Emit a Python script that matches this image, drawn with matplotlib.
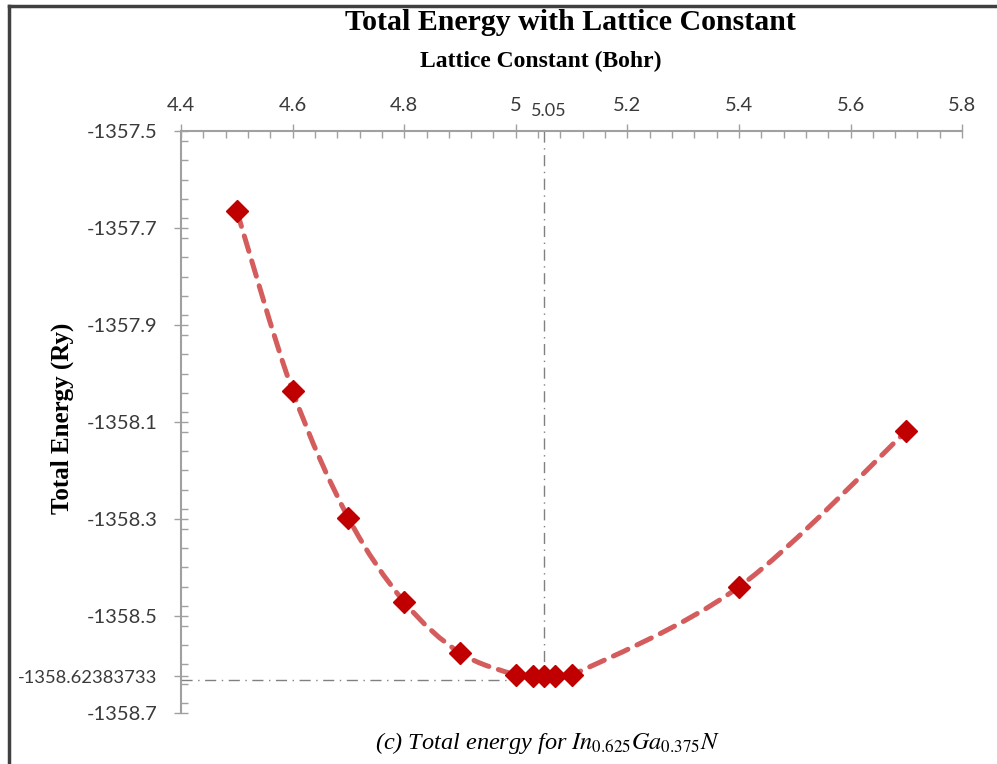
import numpy as np
import matplotlib.pyplot as plt
from matplotlib.path import Path
from matplotlib.patches import PathPatch
from matplotlib.lines import Line2D
from matplotlib.ticker import MultipleLocator

# lattice constant (Bohr) and total energy (Ry)
lattice = [4.5, 4.6, 4.7, 4.8, 4.9, 5.0, 5.03, 5.05, 5.07, 5.1, 5.4, 5.7]
energy = [-1357.665, -1358.036, -1358.298, -1358.471, -1358.576,
          -1358.6215, -1358.6232, -1358.62383733, -1358.6234, -1358.6222,
          -1358.440, -1358.119]

a_min = 5.05
e_min = -1358.62383733

xticks = [4.4, 4.6, 4.8, 5.0, 5.2, 5.4, 5.6, 5.8]
xtick_labels = ["4.4", "4.6", "4.8", "5", "5.2", "5.4", "5.6", "5.8"]
yticks = [-1357.5, -1357.7, -1357.9, -1358.1, -1358.3, -1358.5, e_min, -1358.7]
ytick_labels = ["-1357.5", "-1357.7", "-1357.9", "-1358.1", "-1358.3",
                "-1358.5", "-1358.62383733", "-1358.7"]

tick_font = "Lato"
plt.rcParams['mathtext.fontset'] = 'stix'


def smooth_path(x, y, t=1/6):
	# Catmull-Rom style cubic bezier through the points (like Excel smoothing)
	pts = np.column_stack([x, y])
	verts = [pts[0]]
	codes = [Path.MOVETO]
	n = len(pts)
	for i in range(n - 1):
		p0 = pts[i - 1] if i > 0 else pts[i]
		p1 = pts[i]
		p2 = pts[i + 1]
		p3 = pts[i + 2] if i + 2 < n else pts[i + 1]
		c1 = p1 + (p2 - p0) * t
		c2 = p2 - (p3 - p1) * t
		verts += [c1, c2, p2]
		codes += [Path.CURVE4] * 3
	return Path(verts, codes)


fig = plt.figure(figsize=(9.97, 7.64), dpi=100)
ax = fig.add_axes([0.1816, 0.0668, 0.7834, 0.7617])

ax.set_xlim(4.4, 5.8)
ax.set_ylim(-1358.7, -1357.5)
ax.xaxis.tick_top()

# reference lines at the minimum
ax.plot([a_min, a_min], [-1357.5, e_min - 0.008], color="#808080", lw=1,
	linestyle=(0, (8, 4, 1, 4)), zorder=1)
ax.plot([4.4, a_min], [e_min - 0.008, e_min - 0.008], color="#808080", lw=1,
	linestyle=(0, (8, 4, 1, 4)), zorder=1)

patch = PathPatch(smooth_path(lattice, energy), facecolor="none",
	edgecolor="#d45c5c", lw=3.6, linestyle=(0, (3.2, 2.0)), zorder=2,
	capstyle="round")
ax.add_patch(patch)
ax.plot(lattice, energy, linestyle="none", marker="D", markersize=11,
	color="#c00000", markeredgecolor="#c00000", zorder=3)

ax.set_xticks(xticks)
ax.set_xticklabels(xtick_labels, fontfamily=tick_font, fontsize=14.5, color="#3a3a3a")
ax.set_yticks(yticks)
ax.set_yticklabels(ytick_labels, fontfamily=tick_font, fontsize=14.5, color="#3a3a3a")
ax.get_yticklabels()[6].set_fontsize(13.2)
ax.xaxis.set_minor_locator(MultipleLocator(0.04))
ax.yaxis.set_minor_locator(MultipleLocator(0.04))
ax.tick_params(which="major", direction="inout", length=10, width=1,
	color="#a0a0a0")
ax.tick_params(which="minor", direction="in", length=5, width=1, color="#a0a0a0")
ax.tick_params(axis="x", which="major", pad=7)
ax.tick_params(axis="y", which="major", pad=12)

for s in ["right", "bottom"]:
	ax.spines[s].set_visible(False)
for s in ["left", "top"]:
	ax.spines[s].set_color("#a0a0a0")
	ax.spines[s].set_linewidth(1.5)

ax.annotate("5.05", xy=(a_min, 1.0), xycoords=("data", "axes fraction"),
	xytext=(4, 9), textcoords="offset points", ha="center", va="bottom",
	fontfamily=tick_font, fontsize=13, color="#3a3a3a")

fig.text(0.062, 0.453, "Total Energy (Ry)", rotation=90, ha="center",
	va="center", fontfamily="Liberation Serif", fontweight="bold", fontsize=18)

fig.text(0.572, 0.971, "Total Energy with Lattice Constant", ha="center",
	va="center", fontfamily="Liberation Serif", fontweight="bold", fontsize=21.5)
fig.text(0.542, 0.919, "Lattice Constant (Bohr)", ha="center", va="center",
	fontfamily="Liberation Serif", fontweight="bold", fontsize=17)
fig.text(0.549, 0.0275, r"(c) Total energy for $In_{0.625}Ga_{0.375}N$",
	ha="center", va="center", fontfamily="Liberation Serif", style="italic",
	fontsize=17.5)

# frame lines of the original picture
fig.add_artist(Line2D([0.009, 1.0], [0.992, 0.992], color="#404040", lw=2.5,
	transform=fig.transFigure))
fig.add_artist(Line2D([0.009, 0.009], [0.0, 0.992], color="#404040", lw=2.5,
	transform=fig.transFigure))

fig.savefig("out.png", dpi=100)
